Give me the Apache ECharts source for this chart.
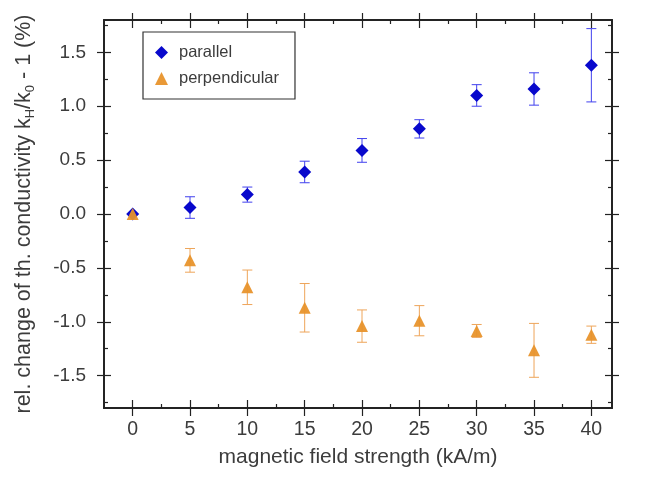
<!DOCTYPE html>
<html><head><meta charset="utf-8">
<script src="https://cdn.jsdelivr.net/npm/echarts@6/dist/echarts.min.js"></script>
<style>html,body{margin:0;padding:0;background:#fff}#c{width:646px;height:480px}</style>
</head><body><div id="c"></div>
<script>
var xValues = [0, 5, 10, 15, 20, 25, 30, 35, 40];
var parallelY = [0, 0.06, 0.18, 0.39, 0.59, 0.79, 1.10, 1.16, 1.38];
var parallelErr = [0, 0.10, 0.07, 0.10, 0.11, 0.085, 0.10, 0.15, 0.34];
var perpY = [0, -0.43, -0.68, -0.87, -1.04, -0.99, -1.085, -1.265, -1.12];
var perpErr = [0, 0.11, 0.16, 0.225, 0.15, 0.14, 0.06, 0.25, 0.08];
var xTicks = [0, 5, 10, 15, 20, 25, 30, 35, 40];
var xMinor = [2.5, 7.5, 12.5, 17.5, 22.5, 27.5, 32.5, 37.5];
var yTicks = [-1.5, -1.0, -0.5, 0.0, 0.5, 1.0, 1.5];
var yMinor = [-1.75, -1.25, -0.75, -0.25, 0.25, 0.75, 1.25, 1.75];
var xName = 'magnetic field strength (kA/m)';
var names = ['parallel', 'perpendicular'];

var XMIN = -2.5, XMAX = 41.8, YMIN = -1.8, YMAX = 1.8;
var G = {left: 104, right: 34, top: 20, bottom: 72};
var lineC = '#222';
var txtC = '#3c3c3c';
var font = 'Liberation Sans, Arial, sans-serif';

function xa(grid, pos, ticks, len, inside, labels, extra) {
  var o = {
    type: 'value', gridIndex: grid, position: pos, min: XMIN, max: XMAX,
    axisLine: {show: true, onZero: false, lineStyle: {color: lineC, width: 1.5}},
    axisTick: {show: true, inside: inside, length: len, customValues: ticks, lineStyle: {color: lineC, width: 1.2}},
    axisLabel: labels ? {show: true, customValues: ticks, fontSize: 19.5, color: txtC, fontFamily: font, margin: 12,
      formatter: function (v) { return String(v); }} : {show: false},
    splitLine: {show: false}
  };
  return Object.assign(o, extra || {});
}
function ya(grid, pos, ticks, len, inside, labels, extra) {
  var o = {
    type: 'value', gridIndex: grid, position: pos, min: YMIN, max: YMAX,
    axisLine: {show: true, onZero: false, lineStyle: {color: lineC, width: 1.5}},
    axisTick: {show: true, inside: inside, length: len, customValues: ticks, lineStyle: {color: lineC, width: 1.2}},
    axisLabel: labels ? {show: true, customValues: ticks, fontSize: 19, color: txtC, fontFamily: font, margin: 18,
      formatter: function (v) { return v.toFixed(1); }} : {show: false},
    splitLine: {show: false}
  };
  return Object.assign(o, extra || {});
}

var parData = xValues.map(function (x, i) { return [x, parallelY[i]]; });
var perData = xValues.map(function (x, i) { return [x, perpY[i]]; });
var parErrData = xValues.map(function (x, i) { return [x, parallelY[i] - parallelErr[i], parallelY[i] + parallelErr[i]]; });
var perErrData = xValues.map(function (x, i) { return [x, perpY[i] - perpErr[i], perpY[i] + perpErr[i]]; });

function errRender(color) {
  return function (params, api) {
    if (api.value(2) === api.value(1)) return null;
    var lo = api.coord([api.value(0), api.value(1)]);
    var hi = api.coord([api.value(0), api.value(2)]);
    var w = 5;
    var st = {stroke: color, lineWidth: 1};
    return {type: 'group', children: [
      {type: 'line', shape: {x1: lo[0], y1: lo[1], x2: hi[0], y2: hi[1]}, style: st},
      {type: 'line', shape: {x1: lo[0] - w, y1: lo[1], x2: lo[0] + w, y2: lo[1]}, style: st},
      {type: 'line', shape: {x1: hi[0] - w, y1: hi[1], x2: hi[0] + w, y2: hi[1]}, style: st}
    ]};
  };
}

var blue = '#0808cc';
var orange = '#e8932c';

var chart = echarts.init(document.getElementById('c'));
chart.setOption({
  animation: false,
  grid: [Object.assign({}, G), Object.assign({}, G), Object.assign({}, G)],
  xAxis: [
    xa(0, 'bottom', xTicks, 8, false, true, {name: xName, nameLocation: 'middle', nameGap: 39,
      nameTextStyle: {fontSize: 21, color: txtC, fontFamily: font}}),
    xa(0, 'top', xTicks, 7, false, false),
    xa(1, 'bottom', xTicks, 8, true, false),
    xa(1, 'top', xTicks, 8, true, false),
    xa(2, 'bottom', xMinor, 4, true, false),
    xa(2, 'top', xMinor, 4, true, false)
  ],
  yAxis: [
    ya(0, 'left', yTicks, 7, false, true, {
      name: 'rel. change of th. conductivity k{s|H}/k{s|0} - 1 (%)', nameLocation: 'middle', nameGap: 67,
      nameTextStyle: {fontSize: 21.5, color: txtC, fontFamily: font, lineHeight: 25,
        rich: {s: {fontSize: 13, color: txtC, fontFamily: font, verticalAlign: 'bottom', lineHeight: 25, padding: [10, 0, 0, 0]}}}
    }),
    ya(0, 'right', yTicks, 7, false, false),
    ya(1, 'left', yTicks, 7, true, false),
    ya(1, 'right', yTicks, 7, true, false),
    ya(2, 'left', yMinor, 4, true, false),
    ya(2, 'right', yMinor, 4, true, false)
  ],
  legend: {
    left: 143, top: 32, orient: 'vertical',
    padding: [12, 16, 12, 12], itemGap: 9, itemWidth: 13, itemHeight: 13,
    borderColor: '#333', borderWidth: 1.2,
    textStyle: {fontSize: 16.5, color: txtC, fontFamily: font, padding: [0, 0, 0, 6]},
    data: [{name: names[0], icon: 'diamond'}, {name: names[1], icon: 'triangle'}]
  },
  series: [
    {type: 'custom', xAxisIndex: 0, yAxisIndex: 0, renderItem: errRender('#4040ee'), data: parErrData, z: 2, silent: true},
    {type: 'custom', xAxisIndex: 0, yAxisIndex: 0, renderItem: errRender('#eea55a'), data: perErrData, z: 2, silent: true},
    {name: names[0], type: 'scatter', xAxisIndex: 0, yAxisIndex: 0, symbol: 'diamond', symbolSize: 13,
      itemStyle: {color: blue, opacity: 1}, data: parData, z: 3},
    {name: names[1], type: 'scatter', xAxisIndex: 0, yAxisIndex: 0, symbol: 'triangle', symbolSize: 12,
      itemStyle: {color: orange, opacity: 0.95}, data: perData, z: 4}
  ]
});
</script></body></html>
